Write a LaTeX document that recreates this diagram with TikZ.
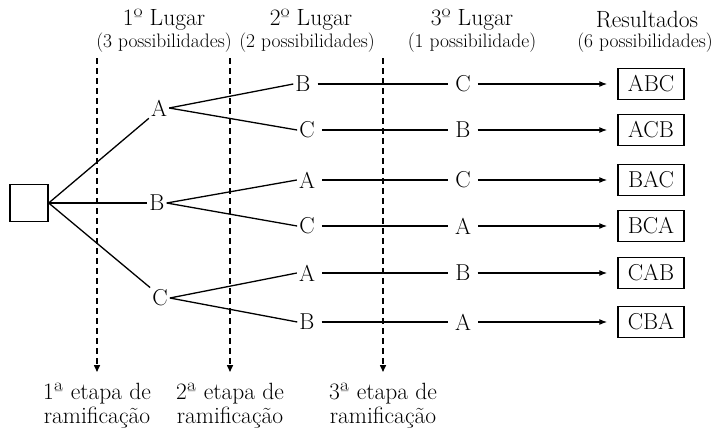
\documentclass[tikz,border=0pt]{standalone}
\usetikzlibrary{arrows.meta}
\begin{document}
\begin{tikzpicture}[x=1pt,y=-1pt,
  lbl/.style={inner sep=2pt,font=\fontsize{23}{27}\selectfont},
  res/.style={draw,line width=1.4pt,minimum width=66pt,minimum height=31pt,inner sep=0pt,font=\fontsize{23}{27}\selectfont},
  head/.style={font=\fontsize{23.5}{27}\selectfont,inner sep=0pt},
  sub/.style={font=\fontsize{19.5}{22}\selectfont,inner sep=0pt},
  etapa/.style={font=\fontsize{23.5}{24}\selectfont,align=center,inner sep=0pt},
  edge/.style={line width=1.3pt},
  arr/.style={line width=1.3pt,-{Latex[length=8pt,width=6pt]}},
  stageline/.style={line width=1.5pt,dash pattern=on 6pt off 4pt,-{Triangle[length=7pt,width=6pt]}}
]
\useasboundingbox (0,0) rectangle (716,432);
% headers
\node[head] (h1) at (164,20) {1º Lugar};
\node[sub]  (s1) at (164,43) {(3 possibilidades)};
\node[head] (h2) at (311,20) {2º Lugar};
\node[sub]  (s2) at (307,43) {(2 possibilidades)};
\node[head] (h3) at (472,20) {3º Lugar};
\node[sub]  (s3) at (472,43) {(1 possibilidade)};
\node[head] (h4) at (647,20) {Resultados};
\node[sub]  (s4) at (645,43) {(6 possibilidades)};
% dashed stage lines
\coordinate (d1t) at (97,58);  \coordinate (d1b) at (97,372);
\coordinate (d2t) at (230,58); \coordinate (d2b) at (230,372);
\coordinate (d3t) at (383,58); \coordinate (d3b) at (383,372);
\draw[stageline] (d1t) -- (d1b);
\draw[stageline] (d2t) -- (d2b);
\draw[stageline] (d3t) -- (d3b);
\node[etapa] (e1) at (97,406) {1ª etapa de\\ramificação};
\node[etapa] (e2) at (230,406) {2ª etapa de\\ramificação};
\node[etapa] (e3) at (383,406) {3ª etapa de\\ramificação};
% root
\node[draw,line width=1.4pt,minimum width=38pt,minimum height=37pt,inner sep=0pt] (root) at (29,203) {};
% level 1
\node[lbl] (A1) at (159,108) {A};
\node[lbl] (B1) at (157,203) {B};
\node[lbl] (C1) at (160,298) {C};
% level 2
\node[lbl] (l2a) at (303,84) {B};
\node[lbl] (l2b) at (307,130) {C};
\node[lbl] (l2c) at (307,180) {A};
\node[lbl] (l2d) at (307,226) {C};
\node[lbl] (l2e) at (307,273) {A};
\node[lbl] (l2f) at (307,322) {B};
% level 3
\node[lbl] (l3a) at (463,84) {C};
\node[lbl] (l3b) at (463,130) {B};
\node[lbl] (l3c) at (463,180) {C};
\node[lbl] (l3d) at (463,226) {A};
\node[lbl] (l3e) at (463,273) {B};
\node[lbl] (l3f) at (463,322) {A};
% results
\node[res] (ra) at (651,84) {ABC};
\node[res] (rb) at (651,130) {ACB};
\node[res] (rc) at (651,180) {BAC};
\node[res] (rd) at (651,226) {BCA};
\node[res] (re) at (651,273) {CAB};
\node[res] (rf) at (651,322) {CBA};
% edges
\draw[edge] (root.east) -- (A1.south west);
\draw[edge] (root.east) -- (B1.west);
\draw[edge] (root.east) -- (C1.north west);
\draw[edge] (A1.east) -- (l2a.west);
\draw[edge] (A1.east) -- (l2b.west);
\draw[edge] (B1.east) -- (l2c.west);
\draw[edge] (B1.east) -- (l2d.west);
\draw[edge] (C1.east) -- (l2e.west);
\draw[edge] (C1.east) -- (l2f.west);
\foreach \s/\t in {l2a/l3a,l2b/l3b,l2c/l3c,l2d/l3d,l2e/l3e,l2f/l3f}
  \draw[edge] ([xshift=5pt]\s.east) -- ([xshift=-5pt]\t.west);
\foreach \s/\t in {l3a/ra,l3b/rb,l3c/rc,l3d/rd,l3e/re,l3f/rf}
  \draw[arr] ([xshift=5pt]\s.east) -- ([xshift=-10pt]\t.west);
\end{tikzpicture}
\end{document}
